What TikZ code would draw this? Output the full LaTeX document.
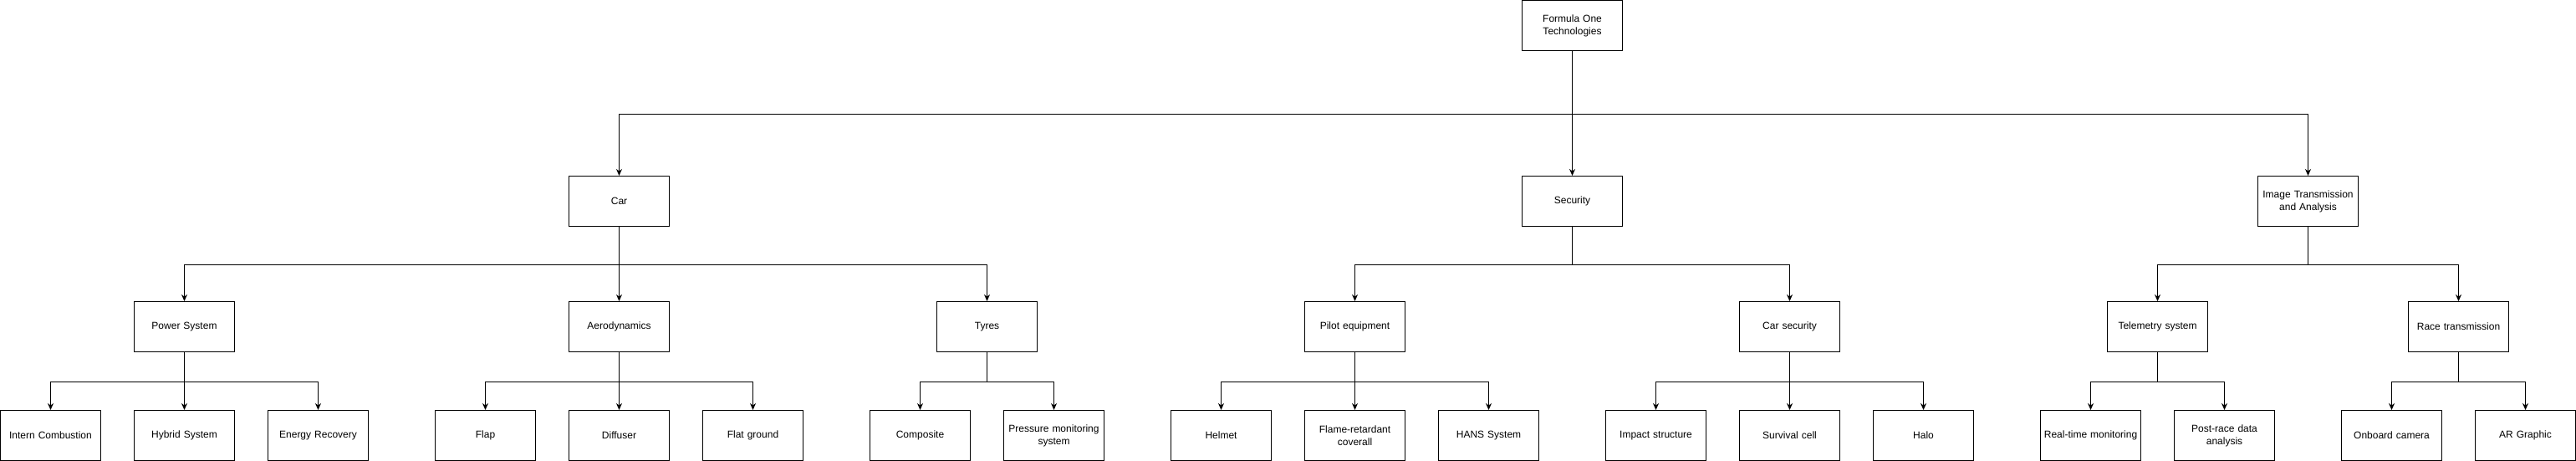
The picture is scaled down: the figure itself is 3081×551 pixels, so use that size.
\documentclass[tikz,border=0pt]{standalone}
\usepackage{fontspec}
\setmainfont{Liberation Sans}
\usetikzlibrary{arrows.meta}
\tikzset{
  box/.style={draw=black, line width=1pt, fill=white, minimum width=120pt, minimum height=60pt,
    inner sep=2pt, align=center, font=\fontsize{12}{15}\selectfont, text width=114pt},
  arr/.style={draw=black, line width=1pt, -{Stealth[length=8pt,width=7pt,inset=2.5pt]}}
}
\begin{document}
\begin{tikzpicture}[x=1pt,y=-1pt]
\useasboundingbox[fill=white] (0,0) rectangle (3081,551);
% level 1
\node[box] (root) at (1880.5,30.5) {Formula One\\Technologies};
% level 2
\node[box] (car) at (740.5,240.5) {Car};
\node[box] (sec) at (1880.5,240.5) {Security};
\node[box] (img) at (2760.5,240.5) {Image Transmission\\and Analysis};
% level 3
\node[box] (pow) at (220.5,390.5) {Power System};
\node[box] (aero) at (740.5,390.5) {Aerodynamics};
\node[box] (tyr) at (1180.5,390.5) {Tyres};
\node[box] (pil) at (1620.5,390.5) {Pilot equipment};
\node[box] (cars) at (2140.5,390.5) {Car security};
\node[box] (tel) at (2580.5,390.5) {Telemetry system};
\node[box] (race) at (2940.5,390.5) {Race transmission};
% level 4
\node[box] (ic) at (60.5,520.5) {Intern Combustion};
\node[box] (hyb) at (220.5,520.5) {Hybrid System};
\node[box] (er) at (380.5,520.5) {Energy Recovery};
\node[box] (flap) at (580.5,520.5) {Flap};
\node[box] (dif) at (740.5,520.5) {Diffuser};
\node[box] (flat) at (900.5,520.5) {Flat ground};
\node[box] (comp) at (1100.5,520.5) {Composite};
\node[box] (pms) at (1260.5,520.5) {Pressure monitoring\\system};
\node[box] (helm) at (1460.5,520.5) {Helmet};
\node[box] (flame) at (1620.5,520.5) {Flame-retardant\\coverall};
\node[box] (hans) at (1780.5,520.5) {HANS System};
\node[box] (imp) at (1980.5,520.5) {Impact structure};
\node[box] (surv) at (2140.5,520.5) {Survival cell};
\node[box] (halo) at (2300.5,520.5) {Halo};
\node[box] (rtm) at (2500.5,520.5) {Real-time monitoring};
\node[box] (prd) at (2660.5,520.5) {Post-race data\\analysis};
\node[box] (onb) at (2860.5,520.5) {Onboard camera};
\node[box] (ar) at (3020.5,520.5) {AR Graphic};
% connectors
\foreach \c in {car,sec,img} \draw[arr] (root.south) -- ++(0,75) -| (\c.north);
\foreach \c in {pow,aero,tyr} \draw[arr] (car.south) -- ++(0,45) -| (\c.north);
\foreach \c in {pil,cars} \draw[arr] (sec.south) -- ++(0,45) -| (\c.north);
\foreach \c in {tel,race} \draw[arr] (img.south) -- ++(0,45) -| (\c.north);
\foreach \c in {ic,hyb,er} \draw[arr] (pow.south) -- ++(0,35) -| (\c.north);
\foreach \c in {flap,dif,flat} \draw[arr] (aero.south) -- ++(0,35) -| (\c.north);
\foreach \c in {comp,pms} \draw[arr] (tyr.south) -- ++(0,35) -| (\c.north);
\foreach \c in {helm,flame,hans} \draw[arr] (pil.south) -- ++(0,35) -| (\c.north);
\foreach \c in {imp,surv,halo} \draw[arr] (cars.south) -- ++(0,35) -| (\c.north);
\foreach \c in {rtm,prd} \draw[arr] (tel.south) -- ++(0,35) -| (\c.north);
\foreach \c in {onb,ar} \draw[arr] (race.south) -- ++(0,35) -| (\c.north);
\end{tikzpicture}
\end{document}
